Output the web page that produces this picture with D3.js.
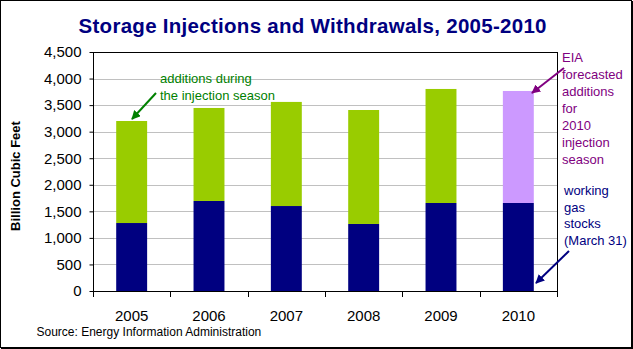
<!DOCTYPE html>
<html>
<head>
<meta charset="utf-8">
<script src="https://cdn.jsdelivr.net/npm/d3@7"></script>
<style>
  html, body { margin: 0; padding: 0; background: #fff; }
  svg { display: block; }
  text { font-family: "Liberation Sans", Arial, sans-serif; }
</style>
</head>
<body>
<svg id="chart" width="633" height="349"></svg>
<script>
// ---- data ----
const years = ["2005", "2006", "2007", "2008", "2009", "2010"];
const workingGasStocks = [1280, 1695, 1600, 1262, 1657, 1657];      // March 31
const injectionAdditions = [1921, 1751, 1960, 2146, 2147, 0];       // actual additions
const forecastAdditions = [0, 0, 0, 0, 0, 2109];                    // EIA forecast 2010
const yTicks = [0, 500, 1000, 1500, 2000, 2500, 3000, 3500, 4000, 4500];
const seriesKeys = ["stocks", "additions", "forecast"];
const seriesColors = { stocks: "#000080", additions: "#99CC00", forecast: "#CC99FF" };

const rows = years.map((y, i) => ({
  year: y,
  stocks: workingGasStocks[i],
  additions: injectionAdditions[i],
  forecast: forecastAdditions[i]
}));

const svg = d3.select("#chart");
const plot = { left: 93, right: 557, top: 52, bottom: 291 };

// outer frame
svg.append("rect").attr("x", 0.5).attr("y", 0.5).attr("width", 631).attr("height", 347)
  .attr("fill", "#fff").attr("stroke", "#000").attr("stroke-width", 1);
svg.append("line").attr("x1", 632.5).attr("x2", 632.5).attr("y1", 1).attr("y2", 349).attr("stroke", "#000");
svg.append("line").attr("x1", 1).attr("x2", 633).attr("y1", 348.5).attr("y2", 348.5).attr("stroke", "#000");

// scales
const x = d3.scaleBand().domain(years).range([plot.left, plot.right])
  .paddingInner(0.6).paddingOuter(0.3);
const y = d3.scaleLinear().domain([0, 4500]).range([plot.bottom, plot.top]);

// gridlines
svg.append("g").selectAll("line").data(yTicks.filter(t => t > 0 && t < 4500)).join("line")
  .attr("x1", plot.left).attr("x2", plot.right)
  .attr("y1", d => Math.round(y(d)) + 0.5).attr("y2", d => Math.round(y(d)) + 0.5)
  .attr("stroke", "#C0C0C0").attr("stroke-width", 1);

// stacked bars
const stack = d3.stack().keys(seriesKeys)(rows);
svg.append("g").selectAll("g").data(stack).join("g")
  .attr("fill", d => seriesColors[d.key])
  .selectAll("rect").data(d => d.filter(s => s[1] - s[0] > 0)).join("rect")
  .attr("x", d => x(d.data.year))
  .attr("width", x.bandwidth())
  .attr("y", d => y(d[1]))
  .attr("height", d => y(d[0]) - y(d[1]));

// plot border (top + right)
svg.append("line").attr("x1", plot.left).attr("x2", plot.right + 0.5)
  .attr("y1", plot.top + 0.5).attr("y2", plot.top + 0.5).attr("stroke", "#000");
svg.append("line").attr("x1", plot.right + 0.5).attr("x2", plot.right + 0.5)
  .attr("y1", plot.top).attr("y2", plot.bottom).attr("stroke", "#000");

// y axis
const yAxis = d3.axisLeft(y).tickValues(yTicks).tickSize(4).tickPadding(8)
  .tickFormat(d3.format(","));
const gy = svg.append("g").attr("transform", `translate(${plot.left + 0.5},0)`).call(yAxis);
gy.select(".domain").attr("stroke", "#000").attr("d", `M0,${plot.top}V${plot.bottom + 0.5}`);
gy.selectAll(".tick line").attr("stroke", "#000");
gy.selectAll(".tick text").attr("font-size", 15).attr("fill", "#000")
  .attr("font-family", "'Liberation Sans', Arial, sans-serif");

// x axis: ticks at category boundaries
const step = x.step();
const bounds = years.map(yr => x(yr) - step * x.paddingInner() / 2).concat([plot.right]);
svg.append("line").attr("x1", plot.left).attr("x2", plot.right + 1)
  .attr("y1", plot.bottom + 0.5).attr("y2", plot.bottom + 0.5).attr("stroke", "#000");
svg.append("g").selectAll("line").data(bounds).join("line")
  .attr("x1", d => Math.round(d) + 0.5).attr("x2", d => Math.round(d) + 0.5)
  .attr("y1", plot.bottom).attr("y2", plot.bottom + 6).attr("stroke", "#000");
svg.append("g").selectAll("text").data(years).join("text")
  .attr("x", d => x(d) + x.bandwidth() / 2)
  .attr("y", 321)
  .attr("text-anchor", "middle")
  .attr("font-size", 15)
  .text(d => d);

// title
svg.append("text").attr("x", 312.5).attr("y", 33).attr("text-anchor", "middle")
  .attr("font-size", 20.5).attr("font-weight", "bold").attr("fill", "#000080")
  .attr("textLength", 468).attr("lengthAdjust", "spacing")
  .text("Storage Injections and Withdrawals, 2005-2010");

// y label
svg.append("text").attr("transform", "translate(19.5,176) rotate(-90)")
  .attr("text-anchor", "middle").attr("font-size", 13).attr("font-weight", "bold")
  .text("Billion Cubic Feet");

// source
svg.append("text").attr("x", 36.5).attr("y", 335.5).attr("font-size", 12)
  .text("Source: Energy Information Administration");

// arrow markers
const defs = svg.append("defs");
function marker(id, color) {
  defs.append("marker").attr("id", id).attr("viewBox", "0 0 10 10")
    .attr("refX", 9).attr("refY", 5).attr("markerWidth", 4.5).attr("markerHeight", 4.5)
    .attr("orient", "auto").attr("markerUnits", "strokeWidth")
    .append("path").attr("d", "M0,0L10,5L0,10z").attr("fill", color);
}
marker("arrG", "#008000");
marker("arrP", "#800080");
marker("arrN", "#000080");

// annotations
function annot(lines, x0, y0, dy, color) {
  const t = svg.append("text").attr("font-size", 13).attr("fill", color);
  lines.forEach((l, i) => t.append("tspan").attr("x", x0).attr("y", y0 + i * dy).text(l));
}
annot(["additions during", "the injection season"], 160, 83, 16.5, "#008000");
annot(["EIA", "forecasted", "additions", "for", "2010", "injection", "season"], 562, 62, 17, "#800080");
annot(["working", "gas", "stocks", "(March 31)"], 564, 195, 16.7, "#000080");

svg.append("line").attr("x1", 156).attr("y1", 93).attr("x2", 132).attr("y2", 119)
  .attr("stroke", "#008000").attr("stroke-width", 2).attr("marker-end", "url(#arrG)");
svg.append("line").attr("x1", 564).attr("y1", 68).attr("x2", 532).attr("y2", 93)
  .attr("stroke", "#800080").attr("stroke-width", 2).attr("marker-end", "url(#arrP)");
svg.append("line").attr("x1", 569).attr("y1", 251).attr("x2", 536).attr("y2", 283)
  .attr("stroke", "#000080").attr("stroke-width", 2).attr("marker-end", "url(#arrN)");
</script>
</body>
</html>
